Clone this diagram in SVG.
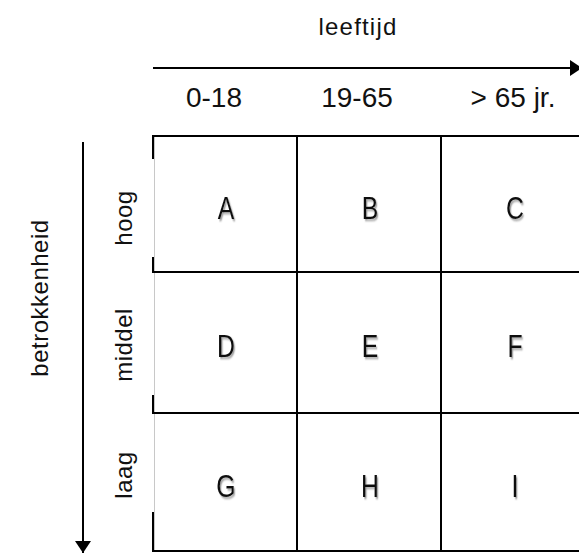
<svg xmlns="http://www.w3.org/2000/svg" width="579" height="554" viewBox="0 0 579 554">
  <defs>
    <style>
      .lbl { font-family: "Liberation Sans", Arial, sans-serif; fill: #111; }
      .axis { font-size: 24px; letter-spacing: 1.2px; }
      .col { font-size: 28px; }
      .row { font-size: 24px; letter-spacing: 0.5px; }
      .cell { font-family: "Liberation Sans", Arial, sans-serif; font-size: 31px; fill: #111; filter: url(#shadow); }
      .line { stroke: #000; stroke-width: 2; fill: none; }
      .edge { stroke: #c8c8c8; stroke-width: 1; }
    </style>
    <filter id="shadow" x="-30%" y="-30%" width="160%" height="160%">
      <feDropShadow dx="1.6" dy="2" stdDeviation="0.8" flood-color="#777" flood-opacity="0.7"/>
    </filter>
    <marker id="head" viewBox="0 0 12 16" refX="12" refY="8" markerWidth="12" markerHeight="16" markerUnits="userSpaceOnUse" orient="auto">
      <path d="M0,0 L12,8 L0,16 Z" fill="#000"/>
    </marker>
  </defs>

  <!-- axes -->
  <g id="connectors">
    <line class="line" x1="153" y1="68" x2="582" y2="68" marker-end="url(#head)"/>
    <line class="line" x1="83" y1="142" x2="83" y2="553" marker-end="url(#head)"/>
  </g>

  <!-- axis titles -->
  <g id="axis-labels">
    <text class="lbl axis" x="358" y="35" text-anchor="middle">leeftijd</text>
    <text class="lbl row" transform="translate(48,298) rotate(-90)" text-anchor="middle">betrokkenheid</text>
  </g>

  <!-- column headers -->
  <g id="col-labels">
    <text class="lbl col" x="214" y="107" text-anchor="middle">0-18</text>
    <text class="lbl col" x="357" y="107" text-anchor="middle">19-65</text>
    <text class="lbl col" x="513" y="107" text-anchor="middle">&gt; 65 jr.</text>
  </g>

  <!-- row headers -->
  <g id="row-labels">
    <text class="lbl row" transform="translate(132,218) rotate(-90)" text-anchor="middle">hoog</text>
    <text class="lbl row" transform="translate(132,345) rotate(-90)" text-anchor="middle">middel</text>
    <text class="lbl row" transform="translate(132,475) rotate(-90)" text-anchor="middle">laag</text>
  </g>

  <!-- grid -->
  <g id="grid">
    <line class="edge" x1="154.5" y1="136" x2="154.5" y2="551"/>
    <path class="line" d="M153,159 V136 H579 M153,257 V272 H579 M153,395 V413 H579 M153,512 V551 H579"/>
    <path class="line" d="M155,272 H160 M155,413 H160"/>
    <line class="line" x1="297" y1="136" x2="297" y2="551"/>
    <line class="line" x1="441" y1="136" x2="441" y2="551"/>
  </g>

  <!-- cells -->
  <g id="cell-A"><text class="cell" transform="translate(226,219) scale(0.8,1)" text-anchor="middle">A</text></g>
  <g id="cell-B"><text class="cell" transform="translate(370,219) scale(0.8,1)" text-anchor="middle">B</text></g>
  <g id="cell-C"><text class="cell" transform="translate(515,219) scale(0.8,1)" text-anchor="middle">C</text></g>
  <g id="cell-D"><text class="cell" transform="translate(226,357) scale(0.8,1)" text-anchor="middle">D</text></g>
  <g id="cell-E"><text class="cell" transform="translate(370,357) scale(0.8,1)" text-anchor="middle">E</text></g>
  <g id="cell-F"><text class="cell" transform="translate(515,357) scale(0.8,1)" text-anchor="middle">F</text></g>
  <g id="cell-G"><text class="cell" transform="translate(226,497) scale(0.8,1)" text-anchor="middle">G</text></g>
  <g id="cell-H"><text class="cell" transform="translate(370,497) scale(0.8,1)" text-anchor="middle">H</text></g>
  <g id="cell-I"><text class="cell" transform="translate(515,497) scale(0.8,1)" text-anchor="middle">I</text></g>
</svg>
